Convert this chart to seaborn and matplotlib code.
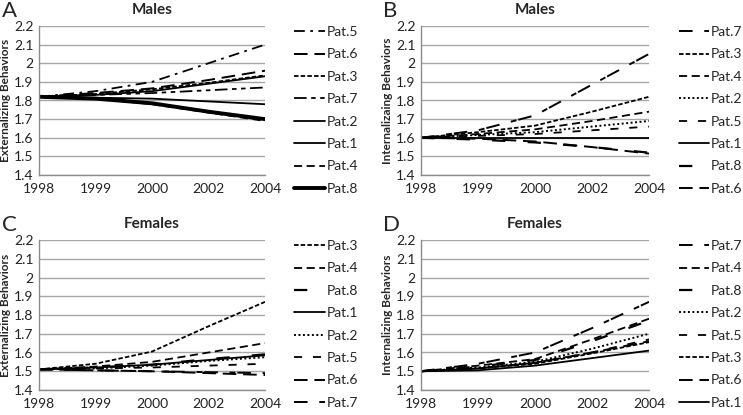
import matplotlib
matplotlib.use("Agg")
import matplotlib.pyplot as plt
import seaborn as sns

years = ["1998", "1999", "2000", "2002", "2004"]
yticks = [1.4, 1.5, 1.6, 1.7, 1.8, 1.9, 2.0, 2.1, 2.2]
ytick_labels = ["1.4", "1.5", "1.6", "1.7", "1.8", "1.9", "2", "2.1", "2.2"]

# Panel A: Males, Externalizing
a_labels = ["Pat.5", "Pat.6", "Pat.3", "Pat.7", "Pat.2", "Pat.1", "Pat.4", "Pat.8"]
a_pat5 = [1.82, 1.85, 1.90, 2.00, 2.10]
a_pat6 = [1.82, 1.84, 1.865, 1.91, 1.96]
a_pat3 = [1.82, 1.835, 1.86, 1.895, 1.935]
a_pat7 = [1.82, 1.83, 1.84, 1.855, 1.87]
a_pat2 = [1.82, 1.83, 1.85, 1.89, 1.93]
a_pat1 = [1.82, 1.815, 1.81, 1.795, 1.78]
a_pat4 = [1.82, 1.81, 1.78, 1.735, 1.69]
a_pat8 = [1.82, 1.81, 1.785, 1.74, 1.70]

# Panel B: Males, Internalizing
b_labels = ["Pat.7", "Pat.3", "Pat.4", "Pat.2", "Pat.5", "Pat.1", "Pat.8", "Pat.6"]
b_pat7 = [1.60, 1.64, 1.72, 1.885, 2.05]
b_pat3 = [1.60, 1.63, 1.665, 1.74, 1.82]
b_pat4 = [1.60, 1.62, 1.645, 1.69, 1.74]
b_pat2 = [1.60, 1.615, 1.63, 1.66, 1.69]
b_pat5 = [1.60, 1.61, 1.62, 1.64, 1.66]
b_pat1 = [1.60, 1.60, 1.60, 1.60, 1.60]
b_pat8 = [1.60, 1.59, 1.575, 1.55, 1.52]
b_pat6 = [1.60, 1.595, 1.58, 1.55, 1.515]

# Panel C: Females, Externalizing
c_labels = ["Pat.3", "Pat.4", "Pat.8", "Pat.1", "Pat.2", "Pat.5", "Pat.6", "Pat.7"]
c_pat3 = [1.51, 1.54, 1.605, 1.74, 1.87]
c_pat4 = [1.51, 1.525, 1.55, 1.60, 1.65]
c_pat8 = [1.51, 1.52, 1.535, 1.565, 1.59]
c_pat1 = [1.51, 1.52, 1.535, 1.56, 1.585]
c_pat2 = [1.51, 1.515, 1.53, 1.555, 1.575]
c_pat5 = [1.51, 1.515, 1.52, 1.53, 1.54]
c_pat6 = [1.51, 1.505, 1.50, 1.49, 1.48]
c_pat7 = [1.51, 1.505, 1.50, 1.495, 1.49]

# Panel D: Females, Internalizing
d_labels = ["Pat.7", "Pat.4", "Pat.8", "Pat.2", "Pat.5", "Pat.3", "Pat.6", "Pat.1"]
d_pat7 = [1.50, 1.54, 1.60, 1.73, 1.87]
d_pat4 = [1.50, 1.53, 1.565, 1.67, 1.78]
d_pat8 = [1.50, 1.525, 1.56, 1.66, 1.77]
d_pat2 = [1.50, 1.52, 1.55, 1.62, 1.70]
d_pat5 = [1.50, 1.515, 1.545, 1.60, 1.67]
d_pat3 = [1.50, 1.515, 1.54, 1.595, 1.655]
d_pat6 = [1.50, 1.515, 1.545, 1.60, 1.66]
d_pat1 = [1.50, 1.505, 1.53, 1.57, 1.61]

sns.set_theme(style="white")
plt.rcParams['font.family'] = ['Lato', 'DejaVu Sans']

# line styles (linestyle, linewidth)
STY = {
    "longdash": ((0, (7, 3.5)), 1.4),
    "short": ((0, (2.5, 1.2)), 1.3),
    "dash": ((0, (4.5, 2.5)), 1.3),
    "dot": ((0, (1, 1.3)), 1.4),
    "widedash": ((0, (4.5, 6)), 1.3),
    "solid": ("-", 1.3),
    "thick": ("-", 2.8),
    "dashdot": ((0, (6, 3, 1.5, 3)), 1.3),
    "dashdotdot": ((0, (7, 2.5, 2.5, 2.5, 2.5, 2.5)), 1.3),
    "longshort": ((0, (7, 6, 3, 1)), 1.4),
    "longgap": ((0, (6, 10)), 1.6),
}

a_series = [(a_pat5, "dashdot"), (a_pat6, "longdash"), (a_pat3, "short"), (a_pat7, "dashdotdot"),
            (a_pat2, "solid"), (a_pat1, "solid"), (a_pat4, "dash"), (a_pat8, "thick")]
b_series = [(b_pat7, "longshort"), (b_pat3, "short"), (b_pat4, "dash"), (b_pat2, "dot"),
            (b_pat5, "widedash"), (b_pat1, "solid"), (b_pat8, "longgap"), (b_pat6, "longdash")]
c_series = [(c_pat3, "short"), (c_pat4, "dash"), (c_pat8, "longgap"), (c_pat1, "solid"),
            (c_pat2, "dot"), (c_pat5, "widedash"), (c_pat6, "longdash"), (c_pat7, "longshort")]
d_series = [(d_pat7, "longshort"), (d_pat4, "dash"), (d_pat8, "longgap"), (d_pat2, "dot"),
            (d_pat5, "widedash"), (d_pat3, "short"), (d_pat6, "longdash"), (d_pat1, "solid")]

panels = [
    ("A", "Males", "Externalizing Behaviors", a_labels, a_series, [39, 26, 265, 175]),
    ("B", "Males", "Internalizaing Behaviors", b_labels, b_series, [421, 26, 649, 175]),
    ("C", "Females", "Externalizing Behaviors", c_labels, c_series, [39, 240, 265, 390]),
    ("D", "Females", "Internalizing Behaviors", d_labels, d_series, [421, 240, 649, 390]),
]

W, H = 743, 415
fig = plt.figure(figsize=(W / 100, H / 100), dpi=100)
xpos = list(range(len(years)))

for letter, title, ylabel, labels, series, (x0, y0, x1, y1) in panels:
    ax = fig.add_axes([x0 / W, 1 - y1 / H, (x1 - x0) / W, (y1 - y0) / H])
    for lab, (vals, sty) in zip(labels, series):
        ls, lw = STY[sty]
        sns.lineplot(x=xpos, y=vals, ax=ax, color="black", linestyle=ls, linewidth=lw, label=lab)
    ax.set_xlim(0, 4)
    ax.set_ylim(1.4, 2.2)
    ax.set_xticks(xpos)
    ax.set_xticklabels(years)
    ax.set_yticks(yticks)
    ax.set_yticklabels(ytick_labels)
    ax.tick_params(axis="both", labelsize=10, length=0, colors="#222222")
    ax.tick_params(axis="y", pad=4)
    ax.tick_params(axis="x", pad=6)
    ax.yaxis.grid(True, color="#a6a6a6", linewidth=1.0)
    ax.set_axisbelow(True)
    for s in ["top", "right"]:
        ax.spines[s].set_visible(False)
    for s in ["left", "bottom"]:
        ax.spines[s].set_color("#8c8c8c")
        ax.spines[s].set_linewidth(1.0)
    ax.set_xlabel("")
    ax.set_ylabel(ylabel, fontsize=8.5, fontweight="bold", labelpad=2)
    ax.set_title(title, fontsize=11, fontweight="bold", pad=9)
    ax.text(-0.165, 1.165, letter, transform=ax.transAxes, fontsize=16, ha="left", va="top")
    ax.legend(loc="upper left", bbox_to_anchor=(1.13, 1.0), frameon=False,
              fontsize=10, handlelength=2.2, handletextpad=0.1,
              labelspacing=0.75, borderpad=0, borderaxespad=0)

fig.savefig("out.png", dpi=100)
